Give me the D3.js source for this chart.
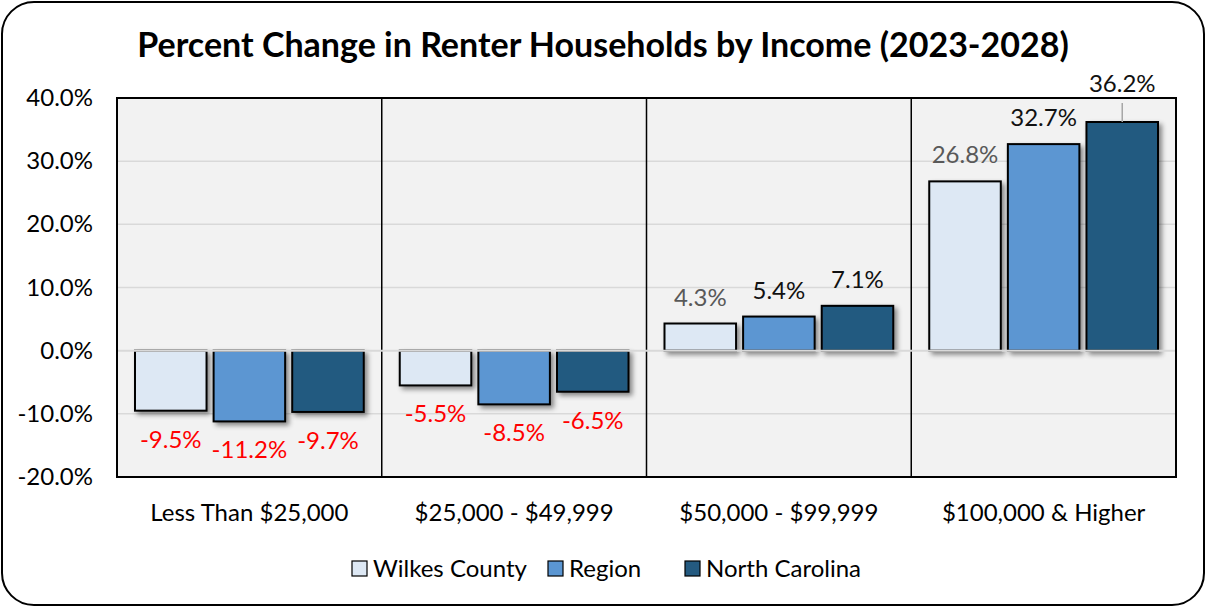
<!DOCTYPE html>
<html>
<head>
<meta charset="utf-8">
<script src="https://cdnjs.cloudflare.com/ajax/libs/d3/7.8.5/d3.min.js"></script>
<style>
  body { margin: 0; background: #fff; }
  svg text { font-family: Lato, "Open Sans", sans-serif; }
</style>
</head>
<body>
<svg width="1207" height="608"></svg>
<script>
var categories = ["Less Than $25,000", "$25,000 - $49,999", "$50,000 - $99,999", "$100,000 & Higher"];
var seriesNames = ["Wilkes County", "Region", "North Carolina"];
var wilkes = [-9.5, -5.5, 4.3, 26.8];
var region = [-11.2, -8.5, 5.4, 32.7];
var northCarolina = [-9.7, -6.5, 7.1, 36.2];
var yTicks = [-20, -10, 0, 10, 20, 30, 40];
var colors = ["#dde8f4", "#5b96d2", "#245a80"];

var svg = d3.select("svg"),
    plotL = 117, plotR = 1176, plotT = 98, plotB = 477;

var defs = svg.append("defs");
var f = defs.append("filter").attr("id", "shadow")
    .attr("x", "-20%").attr("y", "-20%").attr("width", "150%").attr("height", "150%");
f.append("feDropShadow").attr("dx", 3).attr("dy", 3).attr("stdDeviation", 2.5)
    .attr("flood-color", "#000").attr("flood-opacity", 0.45);

// outer frame
svg.append("rect")
    .attr("x", 2).attr("y", 2).attr("width", 1202).attr("height", 603)
    .attr("rx", 32).attr("ry", 32)
    .attr("fill", "#fff").attr("stroke", "#000").attr("stroke-width", 2);

svg.append("text")
    .attr("x", 603).attr("y", 57)
    .attr("text-anchor", "middle")
    .style("font-size", "34px").style("font-weight", "bold")
    .text("Percent Change in Renter Households by Income (2023-2028)");

var x = d3.scaleBand().domain(categories).range([plotL, plotR]);
var x1 = d3.scaleBand().domain(seriesNames)
    .range([18, x.bandwidth() - 18]).paddingInner(0.09);
var y = d3.scaleLinear().domain([-20, 40]).range([plotB, plotT]);

// plot background
svg.append("rect")
    .attr("x", plotL).attr("y", plotT).attr("width", plotR - plotL).attr("height", plotB - plotT)
    .attr("fill", "#f2f2f2");

// gridlines
svg.append("g").selectAll("line")
    .data(yTicks.filter(function(d) { return d !== 0 && d !== 40 && d !== -20; }))
    .enter().append("line")
    .attr("x1", plotL).attr("x2", plotR)
    .attr("y1", function(d) { return y(d); }).attr("y2", function(d) { return y(d); })
    .attr("stroke", "#d9d9d9").attr("stroke-width", 1.5);

// category separators
svg.append("g").selectAll("line")
    .data(categories.slice(1))
    .enter().append("line")
    .attr("x1", function(d) { return x(d); }).attr("x2", function(d) { return x(d); })
    .attr("y1", plotT).attr("y2", plotB)
    .attr("stroke", "#000").attr("stroke-width", 1.5);

var data = categories.map(function(c, i) {
  return { cat: c, values: [wilkes[i], region[i], northCarolina[i]] };
});

var groups = svg.append("g").selectAll("g")
    .data(data)
    .enter().append("g")
    .attr("transform", function(d) { return "translate(" + x(d.cat) + ",0)"; });

groups.selectAll("rect")
    .data(function(d) { return d.values.map(function(v, j) { return { name: seriesNames[j], v: v, j: j }; }); })
    .enter().append("rect")
    .attr("x", function(d) { return x1(d.name); })
    .attr("width", x1.bandwidth())
    .attr("y", function(d) { return y(Math.max(0, d.v)); })
    .attr("height", function(d) { return Math.abs(y(d.v) - y(0)); })
    .attr("fill", function(d) { return colors[d.j]; })
    .attr("stroke", "#000").attr("stroke-width", 2)
    .attr("filter", "url(#shadow)");

// zero line
svg.append("line")
    .attr("x1", plotL).attr("x2", plotR)
    .attr("y1", y(0)).attr("y2", y(0))
    .attr("stroke", "#d9d9d9").attr("stroke-width", 2);

// plot border
svg.append("rect")
    .attr("x", plotL).attr("y", plotT).attr("width", plotR - plotL).attr("height", plotB - plotT)
    .attr("fill", "none").attr("stroke", "#000").attr("stroke-width", 2);

// data labels
groups.selectAll("text")
    .data(function(d) { return d.values.map(function(v, j) { return { name: seriesNames[j], v: v, j: j }; }); })
    .enter().append("text")
    .attr("x", function(d) { return x1(d.name) + x1.bandwidth() / 2; })
    .attr("y", function(d) {
      if (d.v < 0) return y(d.v) + 37;
      if (d.v > 35) return y(40) - 6;
      return y(d.v) - 18;
    })
    .attr("text-anchor", "middle")
    .style("font-size", "24px")
    .attr("fill", function(d) { return d.v < 0 ? "#ff0000" : (d.j === 0 ? "#595959" : "#111"); })
    .text(function(d) { return d.v.toFixed(1) + "%"; });

// leader line for label pushed above plot
groups.filter(function(d) { return d.values[2] > 35; })
    .append("line")
    .attr("x1", x1(seriesNames[2]) + x1.bandwidth() / 2)
    .attr("x2", x1(seriesNames[2]) + x1.bandwidth() / 2)
    .attr("y1", y(40) + 5)
    .attr("y2", function(d) { return y(d.values[2]); })
    .attr("stroke", "#a6a6a6").attr("stroke-width", 1.5);

// y axis labels
svg.append("g").selectAll("text")
    .data(yTicks)
    .enter().append("text")
    .attr("x", 93).attr("y", function(d) { return y(d) + 8; })
    .attr("text-anchor", "end")
    .style("font-size", "24px")
    .text(function(d) { return d.toFixed(1) + "%"; });

// category labels
svg.append("g").selectAll("text")
    .data(categories)
    .enter().append("text")
    .attr("x", function(d) { return x(d) + x.bandwidth() / 2; })
    .attr("y", 521)
    .attr("text-anchor", "middle")
    .style("font-size", "24px")
    .text(function(d) { return d; });

// legend
var legendX = [352, 548, 685];
var legend = svg.append("g").selectAll("g")
    .data(seriesNames)
    .enter().append("g")
    .attr("transform", function(d, i) { return "translate(" + legendX[i] + ",561)"; });
legend.append("rect")
    .attr("width", 15).attr("height", 15)
    .attr("fill", function(d, i) { return colors[i]; })
    .attr("stroke", "#000").attr("stroke-width", 1.2);
legend.append("text")
    .attr("x", 21).attr("y", 16)
    .style("font-size", "24px")
    .text(function(d) { return d; });
</script>
</body>
</html>
